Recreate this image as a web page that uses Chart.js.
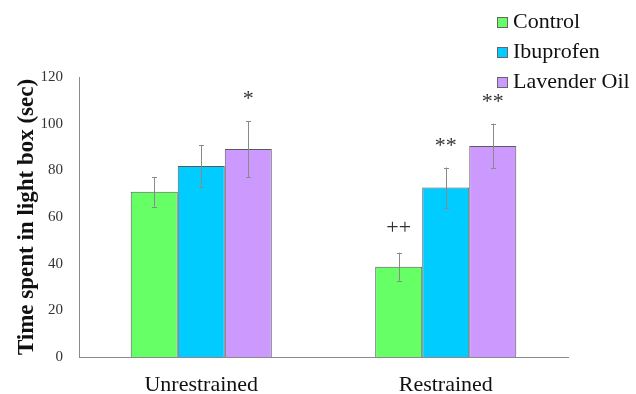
<!DOCTYPE html>
<html><head><meta charset="utf-8">
<script src="https://cdn.jsdelivr.net/npm/chart.js@4"></script>
<style>html,body{margin:0;padding:0;background:#fff}#wrap{width:636px;height:394px;position:relative}</style>
</head><body><div id="wrap"><canvas id="c" width="636" height="394"></canvas></div>
<script>
const categories = ['Unrestrained', 'Restrained'];
const seriesNames = ['Control', 'Ibuprofen', 'Lavender Oil'];
const controlValues = [70.8, 38.7];
const ibuprofenValues = [81.9, 72.6];
const lavenderValues = [89.1, 90.4];
const controlErrors = [6.3, 6.0];
const ibuprofenErrors = [9.0, 8.6];
const lavenderErrors = [12.0, 9.6];
const controlMarks = ['', '++'];
const ibuprofenMarks = ['', '**'];
const lavenderMarks = ['*', '**'];
const yTicks = [0, 20, 40, 60, 80, 100, 120];

const colors = ['#66FF66', '#00CCFF', '#CC99FF'];
const seriesValues = [controlValues, ibuprofenValues, lavenderValues];
const seriesErrors = [controlErrors, ibuprofenErrors, lavenderErrors];
const seriesMarks = [controlMarks, ibuprofenMarks, lavenderMarks];
const SERIF = '"Liberation Serif", "Times New Roman", serif';

const errPlugin = {
  id: 'errbars',
  afterDatasetsDraw(chart) {
    const ctx = chart.ctx;
    const y = chart.scales.y;
    chart.data.datasets.forEach((ds, di) => {
      const meta = chart.getDatasetMeta(di);
      meta.data.forEach((bar, i) => {
        const v = ds.data[i], e = seriesErrors[di][i];
        const yt = y.getPixelForValue(v + e), yb = y.getPixelForValue(v - e);
        const x = Math.round(bar.x) + 0.5;
        ctx.save();
        ctx.strokeStyle = '#8a8a8a';
        ctx.lineWidth = 1;
        ctx.beginPath();
        ctx.moveTo(x, yt); ctx.lineTo(x, yb);
        ctx.moveTo(x - 2.5, Math.round(yt) + 0.5); ctx.lineTo(x + 2.5, Math.round(yt) + 0.5);
        ctx.moveTo(x - 2.5, Math.round(yb) + 0.5); ctx.lineTo(x + 2.5, Math.round(yb) + 0.5);
        ctx.stroke();
        const mark = seriesMarks[di][i];
        if (mark) {
          ctx.font = '22px ' + SERIF;
          ctx.fillStyle = '#333';
          ctx.textAlign = 'center';
          ctx.textBaseline = 'alphabetic';
          const m = ctx.measureText(mark);
          const cy = yt - 26;
          ctx.fillText(mark, bar.x, cy + (m.actualBoundingBoxAscent - m.actualBoundingBoxDescent) / 2);
        }
        ctx.restore();
      });
    });
  }
};

const legendPlugin = {
  id: 'customLegend',
  afterDraw(chart) {
    const ctx = chart.ctx;
    ctx.save();
    chart.data.datasets.forEach((ds, i) => {
      const cy = 22 + i * 30;
      ctx.fillStyle = ds.backgroundColor;
      ctx.fillRect(497, cy - 5, 10, 10);
      ctx.strokeStyle = '#666';
      ctx.lineWidth = 1;
      ctx.strokeRect(497.5, cy - 4.5, 10, 10);
      ctx.fillStyle = '#111';
      ctx.font = '22px ' + SERIF;
      ctx.textAlign = 'left';
      ctx.textBaseline = 'middle';
      ctx.fillText(ds.label, 513, cy);
    });
    ctx.restore();
  }
};

new Chart(document.getElementById('c'), {
  type: 'bar',
  data: {
    labels: categories,
    datasets: seriesNames.map((n, i) => ({
      label: n,
      data: seriesValues[i],
      backgroundColor: colors[i],
      borderColor: '#5a5a5a',
      borderWidth: 1,
      categoryPercentage: 0.577,
      barPercentage: 1.0
    }))
  },
  options: {
    responsive: false,
    devicePixelRatio: 1,
    animation: false,
    layout: { padding: { top: 77, right: 68, left: 0, bottom: 0 } },
    plugins: { legend: { display: false }, tooltip: { enabled: false } },
    scales: {
      x: {
        grid: { display: false, drawTicks: false },
        border: { color: '#8a8a8a', width: 1 },
        ticks: { font: { family: SERIF, size: 22 }, color: '#111', padding: 15 },
        afterFit(s) { s.height = 37; }
      },
      y: {
        min: 0, max: 120,
        afterBuildTicks(s) { s.ticks = yTicks.map(v => ({ value: v })); },
        grid: { display: false, drawTicks: false },
        border: { color: '#8a8a8a', width: 1 },
        ticks: { font: { family: SERIF, size: 15 }, color: '#333', padding: 16 },
        title: { display: true, text: 'Time spent in light box (sec)', font: { family: SERIF, size: 23, weight: 'bold' }, color: '#111', padding: { top: 13, bottom: 0 } },
        afterFit(s) { s.width = 79; }
      }
    }
  },
  plugins: [errPlugin, legendPlugin]
});
</script>
</body></html>
